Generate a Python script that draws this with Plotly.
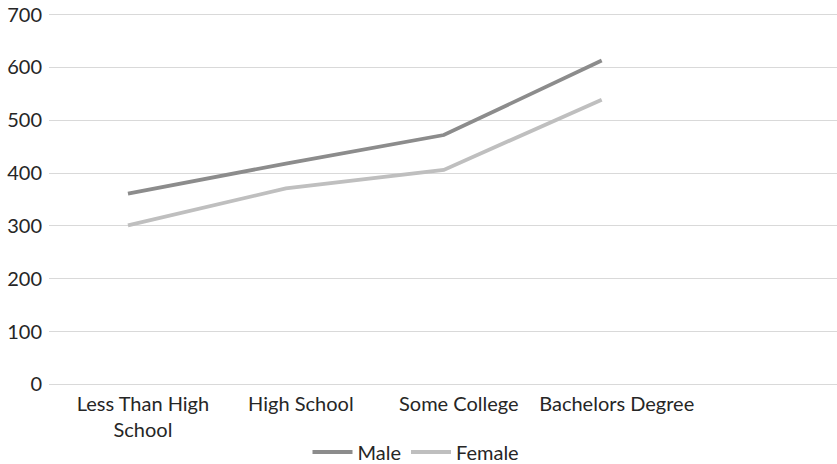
import plotly.graph_objects as go

# Education levels (last slot left empty on the axis)
categories = ["Less Than High School", "High School", "Some College", "Bachelors Degree"]
tick_labels = ["Less Than High<br>School", "High School", "Some College", "Bachelors Degree"]
male = [361, 418, 472, 613]
female = [301, 371, 406, 539]
y_ticks = [0, 100, 200, 300, 400, 500, 600, 700]

font_family = "Lato, 'Open Sans', sans-serif"
text_color = "#262626"

fig = go.Figure()
fig.add_trace(go.Scatter(x=categories, y=male, name="Male", mode="lines",
                         line=dict(color="#8c8c8c", width=3.8)))
fig.add_trace(go.Scatter(x=categories, y=female, name="Female", mode="lines",
                         line=dict(color="#bfbfbf", width=3.8)))

fig.update_layout(
    width=837, height=464,
    margin=dict(l=49, r=0, t=13, b=78),
    paper_bgcolor="white", plot_bgcolor="white",
    font=dict(family=font_family, size=20, color=text_color),
    showlegend=True,
    legend=dict(orientation="h", xref="container", yref="container",
                xanchor="center", x=416 / 837,
                yanchor="middle", y=1 - 452 / 464, font=dict(size=20),
                itemwidth=40),
)
fig.update_xaxes(
    type="category", categoryorder="array", categoryarray=categories,
    range=[-0.5, 4.49], tickvals=categories, ticktext=tick_labels,
    ticklabelshift=15, ticklabelstandoff=4, ticks="", showgrid=False,
    zeroline=False, showline=False, automargin=False,
    tickfont=dict(size=20, color=text_color),
)
fig.update_yaxes(
    range=[-3, 703], tickvals=y_ticks, showgrid=True, gridcolor="#d9d9d9",
    gridwidth=1.3, zeroline=False, showline=False, ticks="", automargin=False,
    tickfont=dict(size=20, color=text_color), ticklabelstandoff=6,
)

fig.write_html("out.html")
